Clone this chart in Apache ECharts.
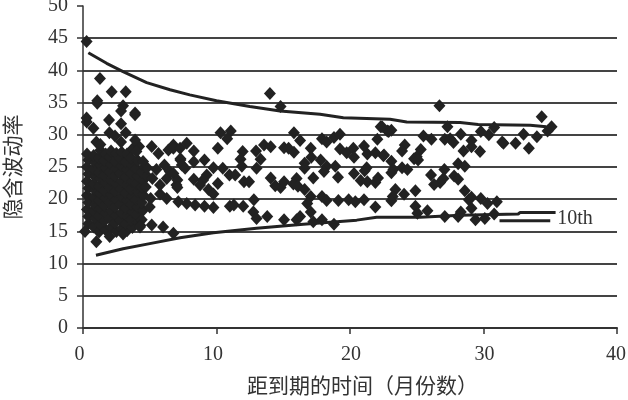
<!DOCTYPE html>
<html><head><meta charset="utf-8">
<script src="https://cdn.jsdelivr.net/npm/echarts@6/dist/echarts.min.js"></script>
<style>html,body{margin:0;padding:0;background:#fff}#c{width:628px;height:400px}</style>
</head><body><div id="c"></div>
<script>
var xTickLabels=["0","10","20","30","40"];
var yTickLabels=["0","5","10","15","20","25","30","35","40","45","50"];
var xAxisTitle="距到期的时间（月份数）";
var yAxisTitle="隐含波动率";
var curveLabel="10th";
var upperCurve=[[0.4,42.75],[1.77,41.1],[3,39.8],[4.77,38.1],[6.52,37.0],[8,36.2],[10,35.3],[12.5,34.4],[14.76,33.7],[17.76,33.2],[19.5,32.65],[23,32.4],[24.25,32],[28.25,31.9],[29.6,31.6],[33.5,31.5],[34.7,31.25]];
var lowerCurve=[[0.97,11.3],[3,12.3],[5,13.1],[7.27,14],[9.77,14.8],[13,15.5],[16.5,16.1],[20.5,16.75],[22,17.2],[25.25,17.2],[28.25,17.5],[32.6,17.7],[32.75,17.95],[35.4,17.95]];
var keyLine=[[31.2,16.65],[35,16.65]];
var outerPoints=[[0.27,44.5],[1.27,38.75],[2.15,36.7],[3.2,36.7],[1.07,35.3],[1.07,34.9],[3,34.5],[2.85,33.7],[3.9,33.4],[3.9,33.1],[1.95,32.3],[0.27,32.6],[0.28,32],[0.78,31],[2.85,31.7],[1.98,30.3],[2.4,29.8],[3.2,30.3],[2.85,28.9],[3.9,29.2],[1,28.9],[1.3,28.5],[4,27.4],[4.5,25.85],[1,13.4],[2,14.2],[3,14.6],[0.15,15],[4.27,15.7],[5.15,16],[6,15.7],[6.77,14.7],[5.07,20.1],[5.77,20.8],[6.27,20.1],[5.2,23.2],[5.77,22.2],[6.27,23.2],[6.1,25.3],[6.5,24.3],[7,22.2],[5.15,28.2],[5.65,27.1],[6.4,27.65],[6.77,28.4],[7.3,26.1],[5.5,24.6],[5,18.8]];
var clusterPoints=[
[0.4,16.2],[0.4,17.3],[0.3,18.4],[0.4,19.5],[0.3,20.6],[0.4,21.7],[0.3,22.8],[0.4,23.9],[0.3,25],[0.4,26.1],[0.3,27],
[0.8,15.7],[0.9,17],[0.8,18.2],[0.9,19.1],[0.8,20.3],[0.9,21.4],[0.8,22.4],[0.9,23.5],[0.8,24.7],[0.9,25.7],[0.8,26.8],
[1.2,14.9],[1.3,16.1],[1.2,17.4],[1.3,18.6],[1.2,19.8],[1.3,20.9],[1.2,22],[1.3,23.2],[1.2,24.2],[1.3,25.3],[1.2,26.4],[1.3,27.6],
[1.7,15.2],[1.6,16.6],[1.7,17.8],[1.6,19],[1.7,20.2],[1.6,21.3],[1.7,22.6],[1.6,23.7],[1.7,24.9],[1.6,26],[1.7,27],
[2.1,15.6],[2,17],[2.1,18.2],[2,19.5],[2.1,20.7],[2,21.8],[2.1,23],[2,24.2],[2.1,25.4],[2,26.6],[2.1,27.5],
[2.5,15],[2.4,16.3],[2.5,17.5],[2.4,18.8],[2.5,20],[2.4,21.2],[2.5,22.4],[2.4,23.6],[2.5,24.8],[2.4,25.9],[2.5,27.1],
[2.9,15.4],[2.8,16.7],[2.9,17.9],[2.8,19.2],[2.9,20.4],[2.8,21.6],[2.9,22.8],[2.8,24],[2.9,25.2],[2.8,26.3],[2.9,27.3],
[3.3,15.1],[3.2,16.2],[3.3,17.4],[3.2,18.6],[3.3,19.8],[3.2,21],[3.3,22.2],[3.2,23.4],[3.3,24.6],[3.2,25.8],[3.3,27],
[3.7,15.6],[3.6,16.8],[3.7,18],[3.6,19.2],[3.7,20.4],[3.6,21.6],[3.7,22.8],[3.6,24],[3.7,25.2],[3.6,26.4],[3.7,27.8],
[4.1,16.4],[4,17.6],[4.1,18.8],[4,20],[4.1,21.2],[4,22.4],[4.1,23.6],[4,24.8],[4.1,26],[4.2,28.2],
[4.5,18.3],[4.4,19.5],[4.5,20.7],[4.4,21.9],[4.5,23],[4.4,24.2],[4.6,25],[4.7,21.9],[4.8,23.6],[4.8,24.9],[4.4,16.8],[4.3,15.9]
];
var midPoints=[[14,36.4],[14.8,34.4],[10.3,30.3],[11.07,30.6],[10.8,29.4],[15.8,30.3],[16.26,29.1],[17.9,29.4],[18.25,28.9],[18.8,29.6],[19.25,30.1],[22.3,31.25],[22.8,30.6],[22.05,29.3],[6.77,27.9],[7.27,27.9],[7.77,28.7],[8.3,27.5],[10.1,27.9],[13.56,28.4],[14.06,28.15],[12.96,27.5],[11.96,27.4],[15.06,28],[15.4,27.9],[15.8,27.3],[17.06,27.9],[19.25,27.8],[19.75,27.2],[20.25,27.9],[20.3,26.5],[21.05,28.25],[21.3,27],[21.9,27.2],[22.5,26.75],[7.3,26.3],[7.4,25.3],[7.65,24.8],[8.3,25.8],[9.1,26.1],[9.77,24.9],[13.3,26.2],[11.8,26.2],[11.9,25.1],[13,24.8],[16.6,25.6],[16.6,24.8],[17.1,26.5],[17.8,26.1],[18.25,25.1],[18.05,24.3],[18.9,25.1],[19.1,23.4],[10.47,24.8],[10.97,23.75],[11.4,23.75],[21.25,24.9],[20.3,24],[21.1,24.4],[6.77,24],[7.07,23],[7.07,21.8],[8.3,23.1],[9.27,23.75],[9,23],[8.77,22.2],[10.1,22.45],[9.4,21.5],[9.77,20.8],[12.06,22.7],[12.44,22.7],[14.06,23.3],[14.4,22.1],[14.8,21.8],[15.06,22.7],[16,23.2],[15.76,22.35],[16.1,22],[16.6,21.5],[17.25,23.3],[20.8,22.9],[21.3,22.7],[21.9,22.6],[22.1,23.3],[17.06,20.4],[17.9,20.4],[18.25,19.8],[19.13,19.8],[19.9,19.9],[20.4,19.6],[21.05,19.9],[21.9,18.8],[16.8,19.35],[7.14,19.6],[7.77,19.35],[8.4,19.1],[9.1,18.9],[9.77,18.7],[11,18.9],[11.3,19.1],[12,18.9],[12.8,19.9],[12.76,18],[13,17],[13.8,17.3],[15.06,16.8],[16,16.8],[16.26,17.3],[17.06,18],[17.25,16.5],[17.9,16.8],[18.8,16.1]];
var farPoints=[[26.7,34.5],[34.36,32.8],[35.1,31.25],[34.8,30.6],[27.3,31.25],[30.8,31.15],[22.4,31.25],[22.9,30.5],[23.1,30.7],[25.5,29.8],[26.1,29.3],[27.1,29.3],[27.5,29.4],[27.75,28.8],[28.3,30.1],[29.8,30.5],[30.4,30],[29.1,29.1],[33,30.1],[34,29.7],[31.4,28.9],[31.5,28.7],[32.4,28.7],[33.4,27.9],[24.1,28.4],[23.9,27.5],[25.3,27.7],[25,26.6],[24.8,26.3],[25.1,26.1],[22.55,26.85],[23.1,25.9],[28.5,27.5],[29.1,28.15],[29.74,27.4],[23.25,24.6],[23.1,24.1],[23.9,24.9],[24.3,24.6],[27.07,24.6],[28.1,25.5],[28.6,25.1],[26.07,23.75],[27,23.2],[26.75,22.6],[26.3,22.3],[27.8,23.6],[28.1,23.1],[28.6,21.3],[23.4,21.5],[23.2,20.4],[23.1,19.75],[24.05,20.75],[24.9,21.3],[28.9,19.9],[29.1,20.3],[29.8,20.1],[30.3,19.35],[31,19.6],[24.9,18.9],[25.05,17.8],[25.8,18.2],[27.1,17.3],[28.1,17.3],[28.3,18],[29.1,18.6],[29.4,16.8],[30.1,17],[30.8,17.7]];

var serif='"Liberation Serif","Noto Sans CJK SC",serif';
function scatter(d){return {type:'scatter',data:d,symbol:'diamond',symbolSize:[12,13],itemStyle:{color:'#222',opacity:1},z:3,silent:true,animation:false};}
function curve(d,extra){return Object.assign({type:'line',data:d,symbol:'none',smooth:false,lineStyle:{color:'#222',width:3},z:4,silent:true,animation:false},extra||{});}
var labelStyle={fontFamily:serif,fontSize:20,color:'#333'};
var chart=echarts.init(document.getElementById('c'),null,{renderer:'canvas'});
chart.setOption({
 animation:false,backgroundColor:'#fff',
 grid:{left:83,right:11,top:6,bottom:72,containLabel:false,outerBoundsMode:'none'},
 graphic:[{type:'text',left:247,top:377,silent:true,style:{text:xAxisTitle,fontFamily:serif,fontSize:21,fill:'#333'}}],
 xAxis:{type:'value',min:0,max:40,interval:10,
  axisLine:{onZero:false,lineStyle:{color:'#333',width:2}},
  axisTick:{show:true,inside:false,length:6,lineStyle:{color:'#333',width:1.5}},
  axisLabel:{fontFamily:serif,fontSize:20,color:'#333',margin:17,
   formatter:function(v){return '{'+(v<20?'l':v<40?'r':'m')+'|'+xTickLabels[v/10]+'}';},
   rich:{l:Object.assign({padding:[0,7,0,0]},labelStyle),r:Object.assign({padding:[0,0,0,2]},labelStyle),m:Object.assign({padding:[0,2,0,0]},labelStyle)},
   showMaxLabel:true,showMinLabel:true,hideOverlap:false},
  splitLine:{show:false}},
 yAxis:{type:'value',min:0,max:50,interval:5,
  name:yAxisTitle,nameLocation:'middle',nameGap:58,nameRotate:90,
  nameTextStyle:{fontFamily:serif,fontSize:21,color:'#333'},
  axisLine:{onZero:false,lineStyle:{color:'#333',width:1.5}},
  axisTick:{show:true,inside:false,length:6,lineStyle:{color:'#333',width:1.5}},
  axisLabel:{fontFamily:serif,fontSize:20,color:'#333',margin:15,formatter:function(v){return yTickLabels[v/5];},showMaxLabel:true,showMinLabel:true,hideOverlap:false},
  splitLine:{show:true,showMinLine:false,showMaxLine:false,lineStyle:{color:'#444',width:2}}},
 series:[
  curve(upperCurve),curve(lowerCurve),
  curve(keyLine,{endLabel:{show:true,formatter:curveLabel,fontFamily:serif,fontSize:20,color:'#333',distance:7,offset:[0,-2]}}),
  scatter(clusterPoints),scatter(outerPoints),scatter(midPoints),scatter(farPoints)
 ]
});
</script></body></html>
